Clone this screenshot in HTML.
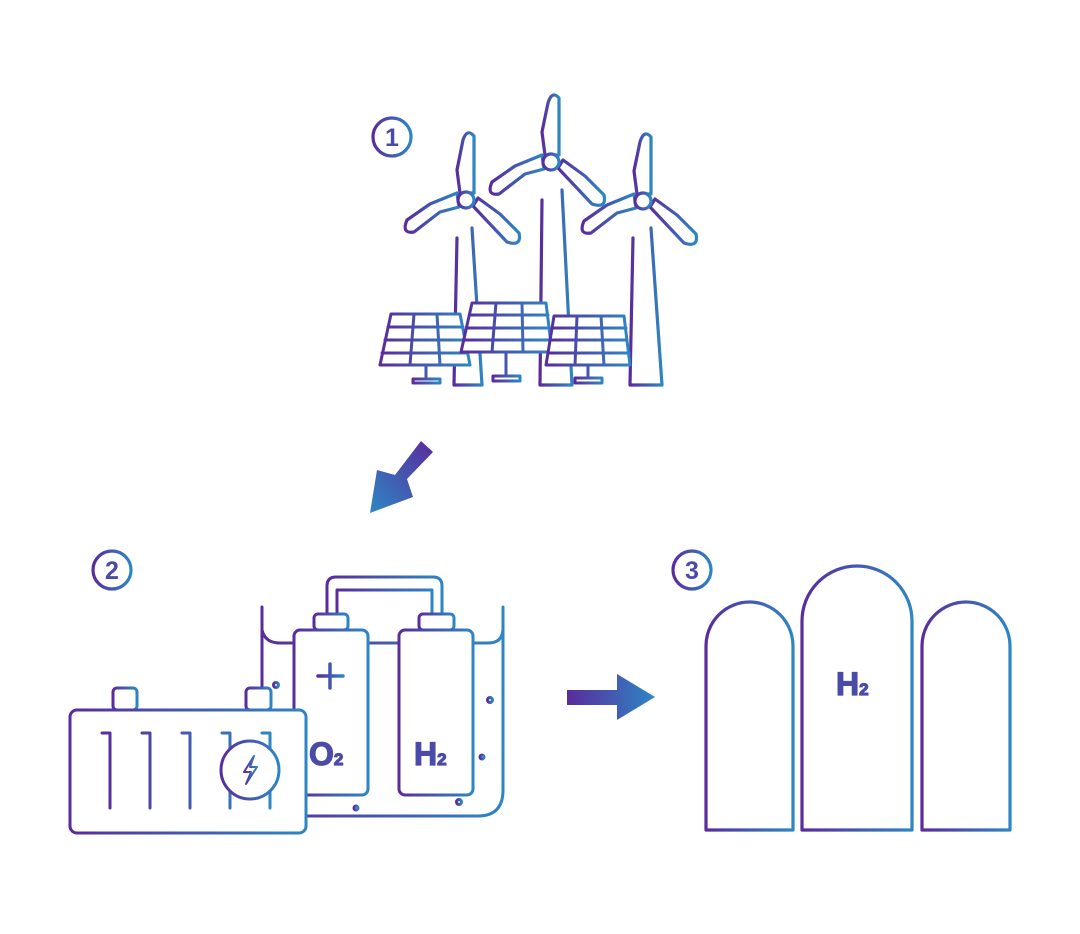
<!DOCTYPE html>
<html><head><meta charset="utf-8"><style>html,body{margin:0;padding:0;background:#fff;}svg{display:block}</style></head>
<body>
<svg width="1080" height="934" viewBox="0 0 1080 934" xmlns="http://www.w3.org/2000/svg">
<defs>
<linearGradient id="g" x1="0" y1="0" x2="1" y2="0"><stop offset="0" stop-color="#5a2b9c"/><stop offset="1" stop-color="#2d86c4"/></linearGradient>
<linearGradient id="ga" x1="1" y1="0" x2="0" y2="1"><stop offset="0" stop-color="#5a2b9c"/><stop offset="1" stop-color="#2d86c4"/></linearGradient>
</defs>
<g fill="none" stroke="url(#g)" stroke-width="3.2" stroke-linejoin="round" stroke-linecap="round">
<circle cx="392" cy="137" r="19"/>
<circle cx="112" cy="570" r="19"/>
<circle cx="692" cy="570" r="19"/>
</g>
<g font-family="Liberation Sans, sans-serif" font-weight="bold" fill="#4a4aa8" text-anchor="middle">
<text x="392" y="146" font-size="25">1</text>
<text x="112" y="579" font-size="25">2</text>
<text x="692" y="579" font-size="25">3</text>
</g>

<polygon points="421,441 433,452 407,479 413,497 370,513 377,470 395,475" fill="url(#ga)"/>
<polygon points="567,690 617,690 617,674 655,697 617,720 617,705 567,705" fill="url(#g)"/>

<g fill="#fff" stroke="url(#g)" stroke-width="3.2" stroke-linejoin="round" stroke-linecap="round">
<path d="M457,238 L454,385 L482,385 L472,228"/>
<path d="M542,200 L540,385 L572,385 L562,190"/>
<path d="M633,238 L630,385 L662,385 L651,228"/>
<!-- turbine 1 -->
<path d="M460,193 L457,170 L463,140 Q467,128 474,136 L474,193 Z"/>
<path d="M459,207 L440,212 L414,232 Q401,234 407,220 L430,204 L457,193 Z"/>
<path d="M473,206 L507,242 Q522,247 519,233 L500,214 L478,198 Z"/>
<circle cx="466" cy="200" r="8"/>
<!-- turbine 2 -->
<path d="M545,155 L542,132 L548,103 Q552,90 559,98 L559,155 Z"/>
<path d="M544,169 L525,174 L499,194 Q486,196 492,182 L515,166 L542,155 Z"/>
<path d="M558,168 L592,204 Q607,209 604,195 L585,176 L563,160 Z"/>
<circle cx="551" cy="162" r="8"/>
<!-- turbine 3 -->
<path d="M637,194 L634,171 L640,142 Q644,129 651,137 L651,194 Z"/>
<path d="M636,208 L617,213 L591,233 Q578,235 584,221 L607,205 L634,194 Z"/>
<path d="M650,207 L684,243 Q699,248 696,234 L677,215 L655,199 Z"/>
<circle cx="643" cy="201" r="8"/>
</g>
<g fill="#fff" stroke="url(#g)" stroke-width="3" stroke-linejoin="round" stroke-linecap="round">
<path d="M426,365 V377 M413,379 H440 V383 H413 Z"/>
<path d="M506,352 V374 M493,376 H520 V381 H493 Z"/>
<path d="M588,365 V376 M575,378 H602 V383 H575 Z"/>
<path d="M391,314 H460 L470,365 H380 Z"/>
<path d="M388,327 H463 M385,340 H465 M382,353 H468 M414,314 L410,365 M437,314 L440,365"/>
<path d="M472,303 H546 L552,352 H461 Z"/>
<path d="M470,315 H548 M467,328 H549 M464,340 H551 M496,303 L492,352 M522,303 L523,352"/>
<path d="M554,316 H624 L630,365 H546 Z"/>
<path d="M553,328 H626 M550,340 H627 M548,353 H629 M577,316 L575,365 M601,316 L604,365"/>
</g>

<g fill="none" stroke="url(#g)" stroke-width="3" stroke-linejoin="round" stroke-linecap="round">
<path d="M262,607 V790 Q262,816 290,816 H478 Q503,816 503,790 V607"/>
<path d="M262,630 Q265,643 280,643 H294 M368,643 H399 M472,643 H488 Q502,643 503,630"/>
<path d="M382,632 V818"/>
<path d="M327,614 V586 Q327,577 336,577 H433 Q442,577 442,586 V614"/>
<path d="M337,614 V590 H432 V614"/>
<rect x="314" y="614" width="34" height="16" rx="4"/>
<rect x="419" y="614" width="35" height="16" rx="4"/>
<rect x="294" y="630" width="74" height="165" rx="6" fill="#fff"/>
<rect x="399" y="630" width="74" height="165" rx="6" fill="#fff"/>
<path d="M318,676 H343 M330,664 V688" stroke-width="3.5"/>
<path d="M422,676 H448" stroke-width="3.5"/>
<circle cx="276" cy="685" r="2.5"/>
<circle cx="490" cy="700" r="2.5"/>
<circle cx="482" cy="757" r="2"/>
<circle cx="356" cy="808" r="2"/>
<circle cx="459" cy="802" r="2.5"/>
</g>
<g font-family="Liberation Sans, sans-serif" font-weight="bold" fill="#4a4aa8" stroke="#4a4aa8" stroke-width="1.2">
<text x="309" y="765" font-size="32">O<tspan font-size="17">2</tspan></text>
<text x="414" y="765" font-size="32">H<tspan font-size="17">2</tspan></text>
</g>

<g fill="#fff" stroke="url(#g)" stroke-width="3" stroke-linejoin="round" stroke-linecap="round">
<rect x="113" y="688" width="24" height="22" rx="4"/>
<rect x="246" y="688" width="25" height="22" rx="4"/>
<rect x="70" y="710" width="236" height="123" rx="7"/>
<path d="M102,733 H110 V808 M142,733 H150 V808 M182,733 H190 V808 M222,733 H230 V808 M262,733 H270 V808"/>
<circle cx="250" cy="770" r="29"/>
<path d="M254,756 L244,772 H251 L246,784 L257,767 H250 Z" stroke-width="2"/>
</g>

<g fill="none" stroke="url(#g)" stroke-width="3.2" stroke-linejoin="round">
<path d="M706,830 V646 A43.5,44 0 0 1 793,646 V830 Z"/>
<path d="M802,830 V621 A55,55 0 0 1 912,621 V830 Z"/>
<path d="M922,830 V646 A44,44 0 0 1 1010,646 V830 Z"/>
</g>
<text x="836" y="695" font-family="Liberation Sans, sans-serif" font-weight="bold" font-size="32" fill="#4a4aa8" stroke="#4a4aa8" stroke-width="1.2">H<tspan font-size="17">2</tspan></text>
</svg>
</body></html>
